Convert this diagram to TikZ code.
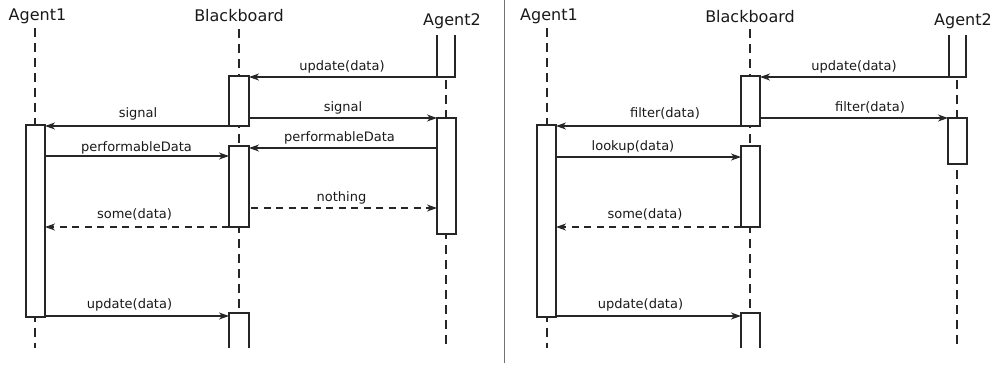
\documentclass[tikz,border=0pt]{standalone}
\usepackage{fontspec}
\setmainfont{DejaVu Sans}
\usetikzlibrary{arrows.meta}

\tikzset{
  ink/.style={draw=black!85, line width=1.3pt},
  lifeline/.style={ink, dash pattern=on 9pt off 6pt},
  actbox/.style={ink, fill=white, inner sep=0pt, outer sep=0pt},
  msg/.style={ink, -{Stealth[length=10pt,width=7pt,inset=3pt]}},
  reply/.style={msg, dash pattern=on 7pt off 5.5pt},
  role/.style={font=\fontsize{16}{19}\selectfont, text=black!90, inner sep=0pt, anchor=base},
  lbl/.style={font=\fontsize{13}{15}\selectfont, text=black!90, inner sep=0pt, anchor=base},
}

% activation bar: name, left x, top y, width, height
\newcommand\actnode[5]{%
  \node[actbox, anchor=north west, minimum width=#4pt, minimum height=#5pt] (#1) at (#2,#3) {};}

\begin{document}
\begin{tikzpicture}[x=1pt, y=-1pt]
\useasboundingbox (0,0) rectangle (994,365);

% ---------------- first scenario ----------------
\node[role] (L-r1) at (37.5,20) {Agent1};
\node[role] (L-r2) at (239,21) {Blackboard};
\node[role] (L-r3) at (452,25) {Agent2};

\coordinate (L-a1-top) at (35,28);   \coordinate (L-a1-end) at (35,348);
\coordinate (L-bb-top) at (239,29);  \coordinate (L-bb-end) at (239,348);
\coordinate (L-a2-top) at (446,35);  \coordinate (L-a2-end) at (446,348);
\draw[lifeline] (L-a1-top) -- (L-a1-end);
\draw[lifeline] (L-bb-top) -- (L-bb-end);
\draw[lifeline] (L-a2-top) -- (L-a2-end);

% open-topped bar of Agent2 and open-bottomed last bar of the blackboard
\coordinate (L-a2t-nw) at (437,35); \coordinate (L-a2t-sw) at (437,77);
\coordinate (L-a2t-se) at (455,77); \coordinate (L-a2t-ne) at (455,35);
\draw[ink, fill=white] (L-a2t-nw) -- (L-a2t-sw) -- (L-a2t-se) -- (L-a2t-ne);
\coordinate (L-bb3-sw) at (229,348); \coordinate (L-bb3-nw) at (229,313);
\coordinate (L-bb3-ne) at (249,313); \coordinate (L-bb3-se) at (249,348);
\draw[ink, fill=white] (L-bb3-sw) -- (L-bb3-nw) -- (L-bb3-ne) -- (L-bb3-se);

\actnode{L-a1}{26}{125}{19}{192}
\actnode{L-bb1}{229}{76}{20}{50}
\actnode{L-bb2}{229}{146}{20}{81}
\actnode{L-a2b}{437}{118}{19}{116}

% message levels
\coordinate (L-y-perfA) at (0,148);
\coordinate (L-y-perfB) at (0,156);
\coordinate (L-y-none) at (0,208);
\coordinate (L-y-upd) at (0,316);

\draw[msg] (L-a2t-sw) -- (L-a2t-sw -| L-bb1.east);
\draw[msg] (L-bb1.south west) -- (L-bb1.south west -| L-a1.east);
\draw[msg] (L-bb1.east |- L-a2b.north west) -- (L-a2b.north west);
\draw[msg] (L-a2b.west |- L-y-perfA) -- (L-bb2.east |- L-y-perfA);
\draw[msg] (L-a1.east |- L-y-perfB) -- (L-bb2.west |- L-y-perfB);
\draw[reply] ([xshift=2pt]L-bb2.east |- L-y-none) -- (L-a2b.west |- L-y-none);
\draw[reply] (L-bb2.south west) -- (L-bb2.south west -| L-a1.east);
\draw[msg] (L-a1.east |- L-y-upd) -- (L-bb3-nw |- L-y-upd);

\node[lbl] (L-t1) at (342,70) {update(data)};
\node[lbl] (L-t2) at (138,117) {signal};
\node[lbl] (L-t3) at (343,111) {signal};
\node[lbl] (L-t4) at (339.5,141) {performableData};
\node[lbl] (L-t5) at (136.5,151) {performableData};
\node[lbl] (L-t6) at (341.5,201) {nothing};
\node[lbl] (L-t7) at (134.5,218) {some(data)};
\node[lbl] (L-t8) at (129.5,308) {update(data)};

% ---------------- separator ----------------
\coordinate (sep-top) at (504.5,0); \coordinate (sep-end) at (504.5,363);
\draw[draw=black!55, line width=1.5pt] (sep-top) -- (sep-end);

% ---------------- second scenario ----------------
\node[role] (R-r1) at (549,20) {Agent1};
\node[role] (R-r2) at (750,22) {Blackboard};
\node[role] (R-r3) at (963,25) {Agent2};

\coordinate (R-a1-top) at (547,28);  \coordinate (R-a1-end) at (547,348);
\coordinate (R-bb-top) at (750,29);  \coordinate (R-bb-end) at (750,348);
\coordinate (R-a2-top) at (957,35);  \coordinate (R-a2-end) at (957,348);
\draw[lifeline] (R-a1-top) -- (R-a1-end);
\draw[lifeline] (R-bb-top) -- (R-bb-end);
\draw[lifeline] (R-a2-top) -- (R-a2-end);

\coordinate (R-a2t-nw) at (949,35); \coordinate (R-a2t-sw) at (949,77);
\coordinate (R-a2t-se) at (966,77); \coordinate (R-a2t-ne) at (966,35);
\draw[ink, fill=white] (R-a2t-nw) -- (R-a2t-sw) -- (R-a2t-se) -- (R-a2t-ne);
\coordinate (R-bb3-sw) at (741,348); \coordinate (R-bb3-nw) at (741,313);
\coordinate (R-bb3-ne) at (760,313); \coordinate (R-bb3-se) at (760,348);
\draw[ink, fill=white] (R-bb3-sw) -- (R-bb3-nw) -- (R-bb3-ne) -- (R-bb3-se);

\actnode{R-a1}{537}{125}{19}{192}
\actnode{R-bb1}{741}{76}{19}{50}
\actnode{R-bb2}{741}{146}{19}{81}
\actnode{R-a2b}{948}{118}{19}{46}

\coordinate (R-y-look) at (0,157);
\coordinate (R-y-upd) at (0,316);

\draw[msg] (R-a2t-sw) -- (R-a2t-sw -| R-bb1.east);
\draw[msg] (R-bb1.south west) -- (R-bb1.south west -| R-a1.east);
\draw[msg] (R-bb1.east |- R-a2b.north west) -- (R-a2b.north west);
\draw[msg] (R-a1.east |- R-y-look) -- (R-bb2.west |- R-y-look);
\draw[reply] (R-bb2.south west) -- (R-bb2.south west -| R-a1.east);
\draw[msg] (R-a1.east |- R-y-upd) -- (R-bb3-nw |- R-y-upd);

\node[lbl] (R-t1) at (854,70) {update(data)};
\node[lbl] (R-t2) at (665,117) {filter(data)};
\node[lbl] (R-t3) at (870,111) {filter(data)};
\node[lbl] (R-t4) at (633,150) {lookup(data)};
\node[lbl] (R-t5) at (645,218) {some(data)};
\node[lbl] (R-t6) at (640.5,308) {update(data)};
\end{tikzpicture}
\end{document}
